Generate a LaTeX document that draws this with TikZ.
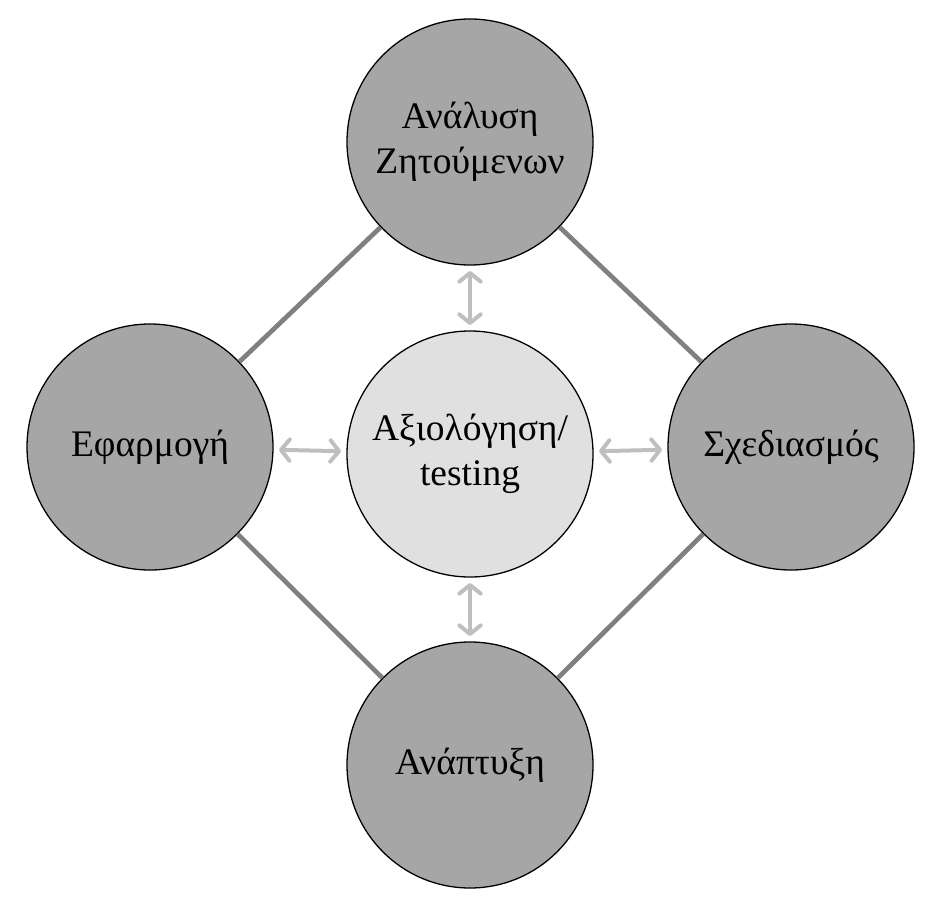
\documentclass[tikz,border=0pt]{standalone}
\usepackage{fontspec}
\setmainfont{Liberation Serif}
\usepackage{tikz}
\usetikzlibrary{
  arrows.meta,
  positioning
}
\definecolor{cyStage}{HTML}{A6A6A6}
\definecolor{cyTest}{HTML}{E0E0E0}
\definecolor{cyLink}{HTML}{808080}
\definecolor{cyArrow}{HTML}{BFBFBF}
\tikzset{
  cynode/.style={
    draw=black, circle, line width=1.1pt, minimum size=73.8mm, inner sep=0pt,
    align=center, font=\fontsize{32}{38}\selectfont
  },
  stage/.style={cynode, fill=cyStage},
  testnode/.style={cynode, fill=cyTest},
  cylink/.style={line width=4pt, cyLink},
  feedback/.style={{Straight Barb[length=2.6mm, width=6.4mm, round]}-{Straight Barb[length=2.6mm, width=6.4mm, round]},
    line width=3.4pt, cyArrow, line cap=round, shorten >=1.6mm, shorten <=1.6mm}
}

\begin{document}
\begin{tikzpicture}[x=0.3mm, y=-0.3mm]
  \useasboundingbox (0,0) rectangle (935,912);
  % stages of the cycle
  \node[stage] (analysis) at (470,142) {Ανάλυση\\Ζητούμενων};
  \node[stage] (design) at (791,447) {Σχεδιασμός};
  \node[stage] (develop) at (470,765) {Ανάπτυξη};
  \node[stage] (deploy) at (150,447) {Εφαρμογή};
  \node[testnode] (testing) at (470,454) {Αξιολόγηση/\\testing};
  % cycle links
  \draw[cylink] (analysis) -- (design);
  \draw[cylink] (design) -- (develop);
  \draw[cylink] (develop) -- (deploy);
  \draw[cylink] (deploy) -- (analysis);
  % feedback to testing
  \draw[feedback] (analysis) -- (testing);
  \draw[feedback] (design) -- (testing);
  \draw[feedback] (develop) -- (testing);
  \draw[feedback] (deploy) -- (testing);
\end{tikzpicture}
\end{document}
